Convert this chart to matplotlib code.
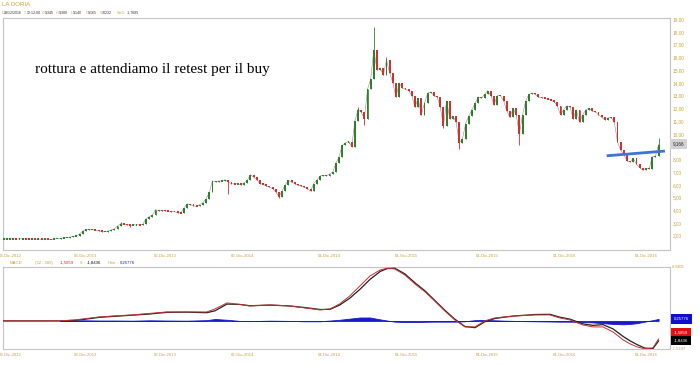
import matplotlib
matplotlib.use("Agg")
import matplotlib.pyplot as plt
import numpy as np

# ---------------- data ----------------
# weekly closes (one candle = 5 sessions), first candle is week -2 (before 03-Dic-2012)
first_week = -2
week_len = 5
closes = [
    1.75, 1.75, 1.75, 1.76, 1.74, 1.75, 1.76, 1.75, 1.74, 1.75, 1.73, 1.74,
    1.72, 1.75, 1.73, 1.72, 1.74, 1.78, 1.80, 1.84, 1.86, 1.90,
    1.95, 1.98, 2.15, 2.35, 2.50, 2.48, 2.47, 2.44, 2.40, 2.33,
    2.30, 2.38, 2.45, 2.55, 2.75, 2.95, 2.90, 2.88, 2.82, 2.85,
    2.86, 2.85, 2.90, 3.35, 3.50, 3.62, 4.05, 3.95, 4.00, 3.98,
    3.92, 3.90, 3.88, 3.82, 3.78, 4.20, 4.50, 4.45, 4.35, 4.30,
    4.45, 4.60, 4.90, 5.40, 6.30, 6.25, 6.30, 6.30, 6.40, 6.20,
    6.10, 6.05, 6.10, 6.00, 6.15, 6.35, 6.80, 6.60, 6.40, 6.10,
    6.05, 5.90, 5.85, 5.70, 5.45, 5.05, 5.50, 6.00, 6.35, 6.20,
    6.10, 5.95, 5.90, 5.80, 5.70, 5.50, 6.10, 6.35, 6.70, 6.75,
    6.70, 6.85, 7.00, 7.70, 8.20, 9.10, 9.30, 9.40, 9.00, 11.00,
    11.90, 11.70, 11.20, 13.50, 14.30, 16.60, 15.00, 15.20, 14.60, 15.80,
    14.80, 14.00, 12.90, 14.00, 13.60, 13.50, 13.40, 13.00, 12.10, 12.80,
    11.50, 12.40, 13.20, 13.30, 13.00, 12.90, 12.10, 10.60, 12.60, 11.20,
    11.40, 10.90, 9.30, 9.60, 10.80, 11.40, 11.90, 12.40, 12.90, 12.80,
    13.10, 13.40, 13.00, 12.30, 13.00, 13.00, 12.60, 11.80, 11.30, 12.00,
    11.50, 10.00, 11.50, 12.60, 13.10, 13.20, 13.10, 12.90, 12.85, 12.80,
    12.70, 12.65, 12.50, 12.20, 11.50, 11.90, 12.20, 12.10, 11.20, 11.90,
    10.90, 11.50, 11.90, 12.00, 11.80, 11.75, 11.50, 11.30, 11.10, 11.25,
    11.30, 10.90, 9.40, 8.70, 8.35, 7.90, 7.80, 8.10, 7.60, 7.35,
    7.15, 7.30, 7.25, 8.20, 8.25, 9.165,
]
# wick extremes (week index -> price)
high_wicks = {35: 3.10, 110: 12.10, 115: 18.40, 119: 16.00, 205: 9.70}
low_wicks = {38: 2.65, 69: 5.30, 85: 4.95, 112: 10.70, 137: 10.45, 142: 8.85, 161: 9.10}

# trend line (session index, price)
trend_x = [943, 1035]
trend_y = [8.28, 8.65]

# MACD panel values (session index -> value)
macd_idx = [-11, 79, 103, 115, 142, 166, 194, 221, 248, 280, 311, 324, 343, 363, 379, 411,
            442, 466, 490, 506, 521, 537, 553, 569, 585, 596, 608, 624, 640, 656, 671, 687,
            703, 719, 735, 750, 766, 782, 798, 814, 829, 853, 869, 885, 905, 921, 937, 953,
            969, 980, 991, 1003, 1016, 1025]
macd_line = [0.0, 0.0, 0.13, 0.26, 0.53, 0.66, 0.79, 0.99, 1.18, 1.18, 1.18, 1.58, 2.37, 2.17, 1.97, 2.11,
             1.97, 1.71, 1.45, 1.58, 2.24, 3.29, 4.61, 5.92, 6.71, 6.94, 6.84, 6.05, 4.87, 3.82, 2.63, 1.32,
             0.13, -0.79, -0.79, 0.0, 0.39, 0.53, 0.66, 0.72, 0.79, 0.79, 0.39, 0.13, -0.53, -0.79, -0.79, -1.45,
             -2.50, -3.03, -3.42, -3.68, -3.55, -2.37]
macd_hist = [0.0, 0.0, 0.05, 0.08, 0.05, 0.05, 0.03, 0.08, 0.05, 0.03, 0.10, 0.25, 0.15, 0.0, -0.03, 0.03,
             0.0, -0.05, -0.05, 0.05, 0.15, 0.30, 0.45, 0.45, 0.20, 0.05, -0.10, -0.15, -0.15, -0.12, -0.10, -0.10,
             -0.10, -0.05, 0.10, 0.12, 0.08, 0.03, 0.0, -0.03, -0.05, -0.08, -0.10, -0.10, -0.15, -0.20, -0.30, -0.40,
             -0.45, -0.40, -0.30, -0.10, 0.10, 0.26]

# x date labels (session index of label)
date_pos = [0, 120, 245, 368, 504, 626, 754, 877, 1006]
date_labels = ["03-Dic-2012", "03-Giu-2013", "02-Dic-2013", "02-Giu-2014", "01-Dic-2014",
               "01-Giu-2015", "01-Dic-2015", "01-Giu-2016", "01-Dic-2016"]
# 9,00 is hidden behind the last-price box in the reference
price_ticks = [2, 3, 4, 5, 6, 7, 8, 10, 11, 12, 13, 14, 15, 16, 17, 18, 19]

# ---------------- styling ----------------
W, H = 700, 365
GOLD = "#c9a43a"
FRAME = "#c4c4c4"
UP = "#2f7f2f"
DN = "#d43030"
WICK = "#3a2a2a"
FONT = "Liberation Sans"
SMALL = 3.1

def fx(px):
    return px / W

def fy(py):
    return 1 - py / H

fig = plt.figure(figsize=(7, 3.65), dpi=100)
fig.patch.set_facecolor("white")

# ---------------- main panel ----------------
ax = fig.add_axes([fx(3), fy(250), (670 - 3) / W, (250 - 18) / H])
n = len(closes)
weeks = np.arange(first_week, first_week + n)
xs = weeks * week_len
c = np.array(closes)
o = np.concatenate([[c[0]], c[:-1]])
hi = np.maximum(o, c)
lo = np.minimum(o, c)
for k, v in high_wicks.items():
    hi[k - first_week] = v
for k, v in low_wicks.items():
    lo[k - first_week] = v
up = c >= o
cols = np.where(up, UP, DN)
ax.vlines(xs, lo, hi, colors=cols, linewidth=0.6, zorder=2)
body_lo = np.minimum(o, c)
body_h = np.abs(c - o)
min_h = 0.11
small = body_h < min_h
body_lo = np.where(small, (o + c) / 2 - min_h / 2, body_lo)
body_h = np.where(small, min_h, body_h)
ax.bar(xs, body_h, bottom=body_lo, width=3.0, color=cols, linewidth=0, zorder=3)
# thin dark line joining candles (session-to-session texture)
ax.plot(xs, c, color=WICK, linewidth=0.35, alpha=0.6, zorder=2)

ax.plot(trend_x, trend_y, color="#3f74d6", linewidth=2.0, zorder=4, solid_capstyle="butt")

ax.set_xlim(-11, 1043)
ax.set_ylim(0.88, 19.1)
ax.yaxis.tick_right()
ax.set_yticks(price_ticks)
ax.set_yticklabels([f"{v:.2f}".replace(".", ",") for v in price_ticks])
ax.set_xticks(date_pos)
ax.set_xticklabels(date_labels)
ax.tick_params(axis="both", length=0, labelcolor=GOLD)
ax.tick_params(axis="y", pad=2.2, labelsize=3.4)
ax.tick_params(axis="x", pad=2.6, labelsize=SMALL)
for lab in ax.get_xticklabels() + ax.get_yticklabels():
    lab.set_fontfamily(FONT)
for s in ax.spines.values():
    s.set_color(FRAME)
    s.set_linewidth(0.8)

fig.text(fx(35), fy(70), "rottura e attendiamo il retest per il buy",
         family="Liberation Serif", fontsize=11, color="black", va="center", ha="left")

# current price box
fig.text(fx(673), fy(144), "9,166", fontsize=3.3, family=FONT, color="#222222",
         va="center", ha="left",
         bbox=dict(boxstyle="square,pad=0.6", fc="#d3d3d3", ec="none"))

# header
fig.text(fx(2), fy(5), "LA DORIA", fontsize=4.4, family=FONT, color=GOLD, va="center")
info = [(1.5, "D", GOLD), (4, "28/12/2016", "#333333"), (24, "T", GOLD), (27, "12:12:00", "#333333"),
        (42, "O", GOLD), (45, "9,345", "#333333"), (55.5, "H", GOLD), (58.5, "9,380", "#333333"),
        (70.5, "L", GOLD), (73, "9,140", "#333333"), (85.5, "C", GOLD), (88, "9,165", "#333333"),
        (99.5, "V", GOLD), (102, "30232", "#333333"), (116.5, "Var%", GOLD), (127, "-1,7685", "#333333")]
for px, t, col in info:
    fig.text(fx(px), fy(12.7), t, fontsize=2.6, family=FONT, color=col, va="center", ha="left")

# ---------------- MACD panel ----------------
mi = np.array(macd_idx, dtype=float)
ml = np.array(macd_line)
mh = np.array(macd_hist)
ms = ml - mh  # signal line

ax2 = fig.add_axes([fx(3), fy(349), (670 - 3) / W, (349 - 267) / H])
ax2.fill_between(mi[1:], 0, mh[1:], color="#1a1acc", linewidth=0.6, edgecolor="#1a1acc", zorder=2)
ax2.plot(mi, ms, color="#222222", linewidth=0.9, zorder=3)
ax2.plot(mi, ml, color="#c83030", linewidth=0.7, zorder=4)
ax2.set_xlim(-11, 1043)
ax2.set_ylim(-3.7, 7.1)
ax2.set_yticks([])
ax2.set_xticks(date_pos)
ax2.set_xticklabels(date_labels)
ax2.tick_params(axis="x", length=0, labelsize=SMALL, labelcolor=GOLD, pad=2.6)
for lab in ax2.get_xticklabels():
    lab.set_fontfamily(FONT)
for sp in ax2.spines.values():
    sp.set_color(FRAME)
    sp.set_linewidth(0.8)

fig.text(fx(672), fy(267), "6,9405", fontsize=SMALL, family=FONT, color=GOLD, va="center")
fig.text(fx(672), fy(349), "-2,5347", fontsize=SMALL, family=FONT, color=GOLD, va="center")
fig.text(fx(674), fy(319), "0,25776", fontsize=SMALL, family=FONT, color="white", va="center",
         bbox=dict(boxstyle="square,pad=0.6", fc="#1010cc", ec="none"))
fig.text(fx(674), fy(332.5), "-1,5859", fontsize=SMALL, family=FONT, color="white", va="center",
         bbox=dict(boxstyle="square,pad=0.6", fc="#e01010", ec="none"))
fig.text(fx(674), fy(340.5), "-1,8436", fontsize=SMALL, family=FONT, color="white", va="center",
         bbox=dict(boxstyle="square,pad=0.6", fc="#000000", ec="none"))

hdr = [(10, "MACD", GOLD), (35, "(32 , 300)", GOLD), (60, "-1,5859", "#c83030"), (80, "9 :", GOLD),
       (87, "-1,8436", "#111111"), (108, "Hist :", GOLD), (120, "0,25776", "#1a1acc")]
for px, t, col in hdr:
    fig.text(fx(px), fy(263), t, fontsize=SMALL, family=FONT, color=col, va="center", ha="left")

fig.savefig("out.png", dpi=100, facecolor="white")
